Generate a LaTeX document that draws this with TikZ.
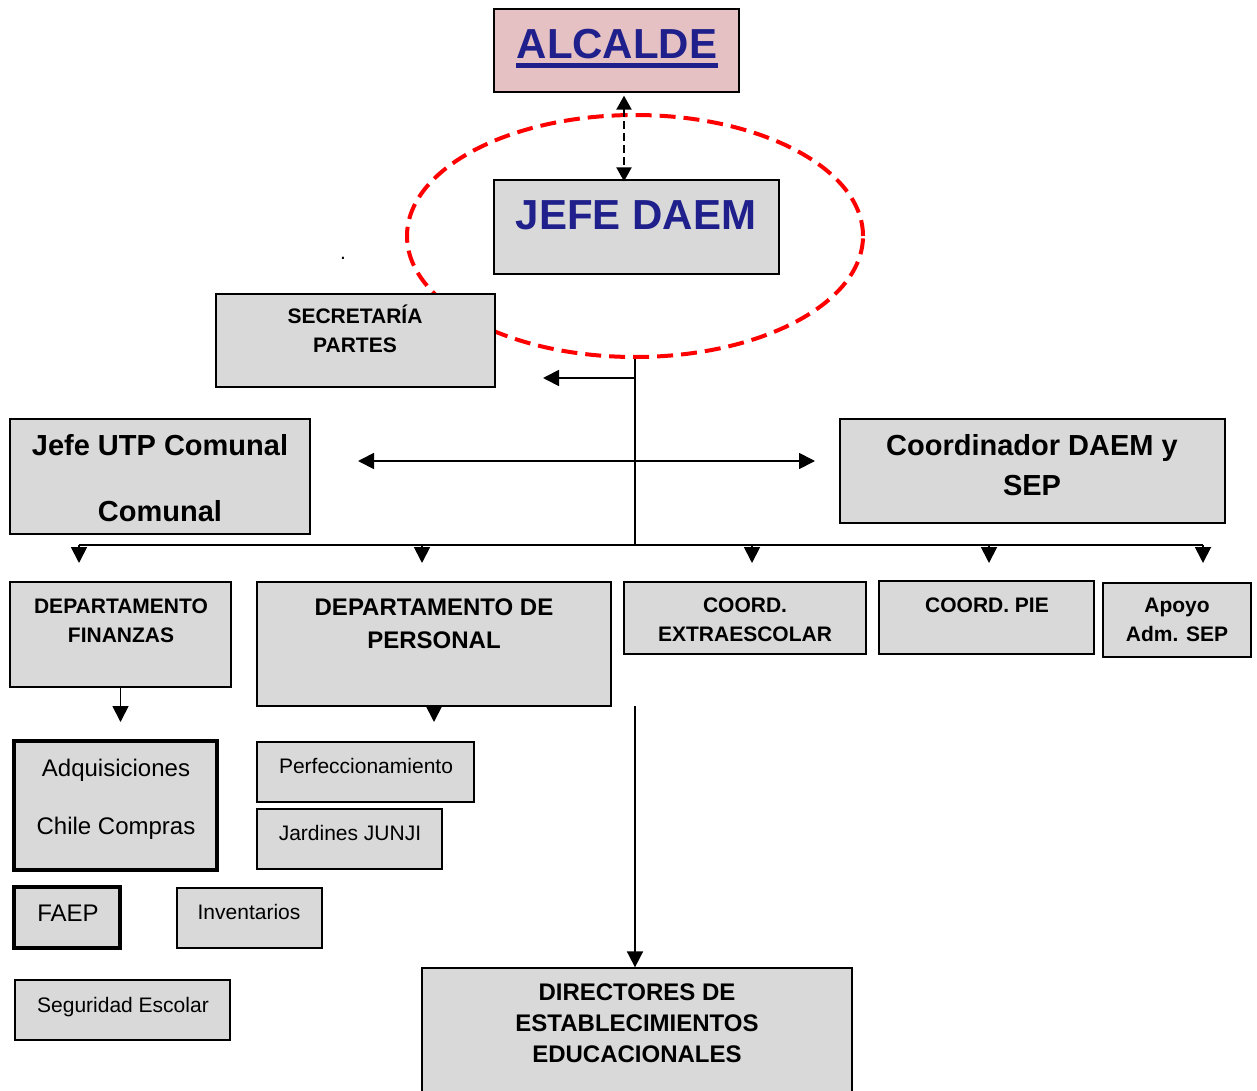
\documentclass[tikz,border=0pt]{standalone}
\usepackage{fontspec}
\setmainfont{Liberation Sans}
\usetikzlibrary{arrows.meta,shapes.geometric}
\definecolor{boxgray}{RGB}{217,217,217}
\definecolor{alcpink}{RGB}{230,193,195}
\definecolor{daemblue}{RGB}{32,32,140}
\newcommand\fsz[2]{\fontsize{#1}{#2}\selectfont}

\begin{document}
\begin{tikzpicture}[x=1pt, y=-1pt, >={Triangle[length=16pt,width=16pt]},
		box/.style={draw, line width=1.3pt, fill=boxgray, inner sep=0pt},
		thickbox/.style={box, line width=3.5pt},
		ring/.style={ellipse, draw=red, line width=4pt, dash pattern=on 16pt off 8pt, inner sep=0pt, minimum width=456pt, minimum height=242pt},
		link/.style={line width=1.8pt},
		txt/.style={align=center, inner sep=0pt}]
			%%%%% START %%%%%
			
			\path[fill=white, use as bounding box] (0,0) rectangle (1257,1091);
			
			% top: alcalde, jefe and the red ring
			\node[ring] (ring) at (635,236) {};
			\node[box, fill=alcpink, minimum width=245pt, minimum height=83pt] (alcalde) at (616.5,50.5) {};
			\node[txt, anchor=base, text=daemblue, font=\bfseries\fsz{42}{50}] (alcaldetxt) at (617,59) {ALCALDE};
			\draw[daemblue, line width=4.5pt] ([yshift=-6.5pt]alcaldetxt.base west) -- ([yshift=-6.5pt]alcaldetxt.base east);
			\node[box, minimum width=285pt, minimum height=94pt] (jefe) at (636.5,227) {};
			\node[txt, anchor=base, text=daemblue, font=\bfseries\fsz{42}{50}] (jefetxt) at (636,230) {JEFE DAEM};
			\draw[line width=2.2pt, dash pattern=on 8pt off 4pt, {Triangle[length=14pt,width=15pt]}-{Triangle[length=14pt,width=15pt]}] ([xshift=7.5pt,yshift=-3pt]alcalde.south) -- ([xshift=-12.5pt,yshift=-2pt]jefe.north);
			
			\node[txt, anchor=base, font=\fsz{21}{29}] (dot) at (343,259) {.};
			
			\node[box, minimum width=279pt, minimum height=93pt] (secretaria) at (355.5,340.5) {};
			\node[txt, font=\bfseries\fsz{21}{29}] (secretariatxt) at (355,328.5) {SECRETARÍA\\PARTES};
			
			% trunk and side arrows
			\coordinate (secfork) at (635,378);
			\coordinate (sectip) at (543,378);
			\coordinate (utptip) at (358,461);
			\coordinate (coortip) at (815,461);
			\coordinate (bus) at (635,545);
			\coordinate (busL) at (79,545);
			\coordinate (busR) at (1203,545);
			\draw[link] (ring.south) -- (bus);
			\draw[link, ->] (secfork) -- (sectip);
			\draw[link, <->] (utptip) -- (coortip);
			\draw[link] (busL) -- (busR);
			\foreach \x/\n in {79/fin,422/per,752/ext,989/pie,1203/apo}{
				\coordinate (drop\n) at (\x,563);
				\draw[link, ->] (\x,545) -- (drop\n);
			}
			
			\node[box, minimum width=300pt, minimum height=115pt] (utp) at (160,476.5) {};
			\node[txt, font=\bfseries\fsz{29}{66}] (utptxt) at (160,478.5) {Jefe UTP Comunal\\Comunal};
			\node[box, minimum width=385pt, minimum height=104pt] (coordinador) at (1032.5,471) {};
			\node[txt, font=\bfseries\fsz{29}{40}] (coordinadortxt) at (1032,465.5) {Coordinador DAEM y\\SEP};
			
			% departments
			\node[box, minimum width=221pt, minimum height=105pt] (finanzas) at (120.5,634.5) {};
			\node[txt, font=\bfseries\fsz{21}{29}] (finanzastxt) at (121,621) {DEPARTAMENTO\\FINANZAS};
			\node[box, minimum width=354pt, minimum height=124pt] (personal) at (434,644) {};
			\node[txt, font=\bfseries\fsz{24}{33}] (personaltxt) at (434,623.5) {DEPARTAMENTO DE\\PERSONAL};
			\node[box, minimum width=242pt, minimum height=72pt] (extraescolar) at (745,618) {};
			\node[txt, font=\bfseries\fsz{21}{29}] (extraescolartxt) at (745,619.5) {COORD.\\EXTRAESCOLAR};
			\node[box, minimum width=215pt, minimum height=73pt] (pie) at (986.5,617.5) {};
			\node[txt, anchor=base, font=\bfseries\fsz{21}{29}] (pietxt) at (987,612.5) {COORD. PIE};
			\node[box, minimum width=148pt, minimum height=74pt] (apoyo) at (1177,620) {};
			\node[txt, font=\bfseries\fsz{21}{29}] (apoyotxt) at (1177,619.5) {Apoyo\\Adm. SEP};
			
			\coordinate (fintip) at (120.5,722);
			\coordinate (pertip) at (434,722);
			\coordinate (dirtop) at (635,706);
			\draw[link, ->] (finanzas.south) -- (fintip);
			\draw[link, ->] (personal.south) -- (pertip);
			
			% units below
			\node[thickbox, minimum width=203pt, minimum height=129pt] (adquisiciones) at (115.5,805.5) {};
			\node[txt, font=\fsz{24}{58}] (adquisicionestxt) at (116,799.5) {Adquisiciones\\Chile Compras};
			\node[thickbox, minimum width=106pt, minimum height=61pt] (faep) at (67,917.5) {};
			\node[txt, anchor=base, font=\fsz{24}{30}] (faeptxt) at (68,921) {FAEP};
			\node[box, minimum width=145pt, minimum height=60pt] (inventarios) at (249.5,918) {};
			\node[txt, anchor=base, font=\fsz{21}{29}] (inventariostxt) at (249,919) {Inventarios};
			\node[box, minimum width=215pt, minimum height=60pt] (seguridad) at (122.5,1010) {};
			\node[txt, anchor=base, font=\fsz{21}{29}] (seguridadtxt) at (123,1012) {Seguridad Escolar};
			\node[box, minimum width=217pt, minimum height=60pt] (perfeccionamiento) at (365.5,772) {};
			\node[txt, anchor=base, font=\fsz{21}{29}] (perfeccionamientotxt) at (366,773) {Perfeccionamiento};
			\node[box, minimum width=185pt, minimum height=60pt] (jardines) at (349.5,839) {};
			\node[txt, anchor=base, font=\fsz{21}{29}] (jardinestxt) at (350,840) {Jardines JUNJI};
			
			\node[box, minimum width=430pt, minimum height=142pt] (directores) at (637,1039) {};
			\node[txt, font=\bfseries\fsz{24}{31}] (directorestxt) at (637,1023.5) {DIRECTORES DE\\ESTABLECIMIENTOS\\EDUCACIONALES};
			\draw[link, ->] (dirtop) -- (dirtop |- directores.north);
			
			%%%%% END %%%%%
\end{tikzpicture}
\end{document}
